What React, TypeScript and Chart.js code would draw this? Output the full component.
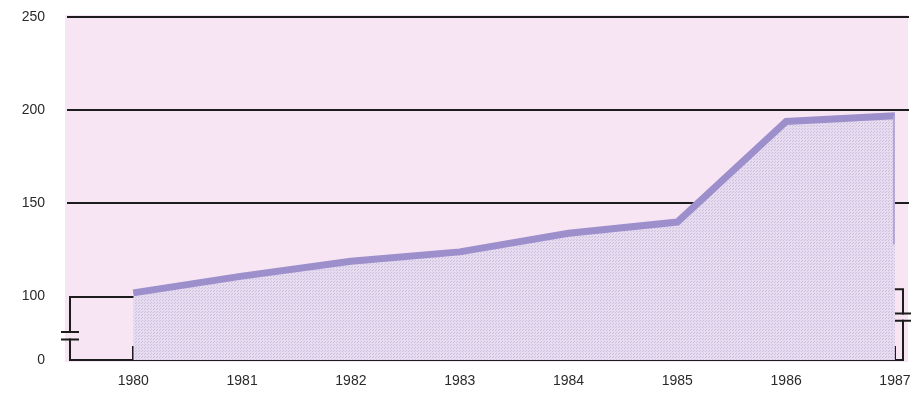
import React, { useEffect, useRef } from 'react';
import { Chart, registerables } from 'chart.js';

Chart.register(...registerables);

const years = [1980, 1981, 1982, 1983, 1984, 1985, 1986, 1987];
const values = [102, 111, 119, 124, 134, 140, 194, 197];
const yTickValues = [66, 100, 150, 200, 250];
const yTickLabels = ['0', '100', '150', '200', '250'];
const fullGridValues = [150, 200, 250];
const breakLow = 66;

function makePattern(): CanvasPattern | string {
  const c = document.createElement('canvas');
  c.width = 3;
  c.height = 3;
  const g = c.getContext('2d');
  if (!g) return '#e4d8ee';
  g.fillStyle = '#e6dbef';
  g.fillRect(0, 0, 3, 3);
  g.fillStyle = '#cbbfdf';
  g.fillRect(0, 0, 1, 1);
  g.fillRect(1, 2, 1, 1);
  const p = g.createPattern(c, 'repeat');
  return p || '#e4d8ee';
}

const framePlugin = {
  id: 'framePlugin',
  beforeDraw(chart: any) {
    const { ctx, chartArea } = chart;
    ctx.save();
    ctx.fillStyle = '#f7e5f3';
    ctx.fillRect(chartArea.left - 3, chartArea.top - 2, chartArea.right - chartArea.left + 3, chartArea.bottom - chartArea.top + 4);
    ctx.restore();
  },
  beforeDatasetsDraw(chart: any) {
    const { ctx, chartArea, scales } = chart;
    const x = scales.x;
    const y = scales.y;
    ctx.save();
    ctx.strokeStyle = '#1c1c1c';
    ctx.lineWidth = 2;
    ctx.lineCap = 'square';
    for (const v of fullGridValues) {
      const py = Math.round(y.getPixelForValue(v));
      ctx.beginPath();
      ctx.moveTo(chartArea.left, py);
      ctx.lineTo(chartArea.right, py);
      ctx.stroke();
    }
    const lx = chartArea.left + 2;
    const y100 = Math.round(y.getPixelForValue(100));
    const y0 = Math.round(y.getPixelForValue(breakLow));
    const x1980 = x.getPixelForValue(years[0]);
    // left partial 100 line and broken axis
    ctx.beginPath();
    ctx.moveTo(x1980, y100);
    ctx.lineTo(lx, y100);
    ctx.lineTo(lx, y.getPixelForValue(81));
    ctx.moveTo(lx, y.getPixelForValue(77));
    ctx.lineTo(lx, y0);
    ctx.stroke();
    ctx.beginPath();
    ctx.moveTo(lx - 8, y.getPixelForValue(81));
    ctx.lineTo(lx + 8, y.getPixelForValue(81));
    ctx.moveTo(lx - 8, y.getPixelForValue(77));
    ctx.lineTo(lx + 8, y.getPixelForValue(77));
    ctx.stroke();
    // bottom axis
    const rx = chartArea.right - 5;
    ctx.beginPath();
    ctx.moveTo(lx, y0);
    ctx.lineTo(rx, y0);
    ctx.stroke();
    // right bracket
    ctx.beginPath();
    ctx.moveTo(rx - 18, y.getPixelForValue(104));
    ctx.lineTo(rx, y.getPixelForValue(104));
    ctx.lineTo(rx, y.getPixelForValue(91));
    ctx.moveTo(rx, y.getPixelForValue(87));
    ctx.lineTo(rx, y0);
    ctx.stroke();
    ctx.beginPath();
    ctx.moveTo(rx - 7, y.getPixelForValue(91));
    ctx.lineTo(rx + 7, y.getPixelForValue(91));
    ctx.moveTo(rx - 7, y.getPixelForValue(87));
    ctx.lineTo(rx + 7, y.getPixelForValue(87));
    ctx.stroke();
    // x tick marks
    for (const yr of years) {
      const px = Math.round(x.getPixelForValue(yr));
      ctx.beginPath();
      ctx.moveTo(px, y0);
      ctx.lineTo(px, y0 - 13);
      ctx.stroke();
    }
    ctx.restore();
  },
  afterDatasetsDraw(chart: any) {
    const { ctx, scales } = chart;
    const x = scales.x;
    const y = scales.y;
    const last = years.length - 1;
    const px = x.getPixelForValue(years[last]);
    ctx.save();
    ctx.strokeStyle = '#b3a6d6';
    ctx.lineWidth = 2;
    ctx.beginPath();
    ctx.moveTo(px - 1, y.getPixelForValue(values[last]));
    ctx.lineTo(px - 1, y.getPixelForValue(128));
    ctx.stroke();
    ctx.restore();
  },
};

export default function App() {
  const ref = useRef<HTMLCanvasElement | null>(null);

  useEffect(() => {
    if (!ref.current) return;
    const font = { family: '"Liberation Sans", Arial, sans-serif', size: 14 };
    const chart = new Chart(ref.current, {
      type: 'line',
      data: {
        datasets: [
          {
            data: years.map((yr, i) => ({ x: yr, y: values[i] })),
            borderColor: '#9c8fcb',
            borderWidth: 7,
            backgroundColor: makePattern() as any,
            fill: 'start',
            pointRadius: 0,
            tension: 0,
            borderJoinStyle: 'miter',
            borderCapStyle: 'butt',
          },
        ],
      },
      options: {
        responsive: false,
        animation: false,
        layout: { padding: { top: 17, right: 3, left: 0, bottom: 0 } },
        plugins: { legend: { display: false }, tooltip: { enabled: false } },
        scales: {
          x: {
            type: 'linear',
            min: 1979.4,
            max: 1987.12,
            grid: { display: false, drawTicks: false },
            border: { display: false },
            afterBuildTicks: (s: any) => {
              s.ticks = years.map((v) => ({ value: v }));
            },
            afterFit: (s: any) => {
              s.height = 41;
              s.paddingLeft = 0;
              s.paddingRight = 0;
            },
            ticks: {
              color: '#2a2a2a',
              font,
              padding: 13,
              maxRotation: 0,
              autoSkip: false,
              callback: (v: any) => String(v),
            },
          },
          y: {
            type: 'linear',
            min: breakLow,
            max: 250,
            grid: { display: false, drawTicks: false },
            border: { display: false },
            afterBuildTicks: (s: any) => {
              s.ticks = yTickValues.map((v) => ({ value: v }));
            },
            afterFit: (s: any) => {
              s.width = 68;
              s.paddingTop = 0;
              s.paddingBottom = 0;
            },
            ticks: {
              color: '#2a2a2a',
              font,
              padding: 23,
              autoSkip: false,
              callback: (v: any) => {
                const i = yTickValues.indexOf(Number(v));
                return i >= 0 ? yTickLabels[i] : '';
              },
            },
          },
        },
      },
      plugins: [framePlugin],
    });
    return () => chart.destroy();
  }, []);

  return (
    <div style={{ position: 'fixed', left: 0, top: 0, width: 911, height: 401, background: '#ffffff' }}>
      <canvas ref={ref} width={911} height={401} style={{ display: 'block' }} />
    </div>
  );
}
